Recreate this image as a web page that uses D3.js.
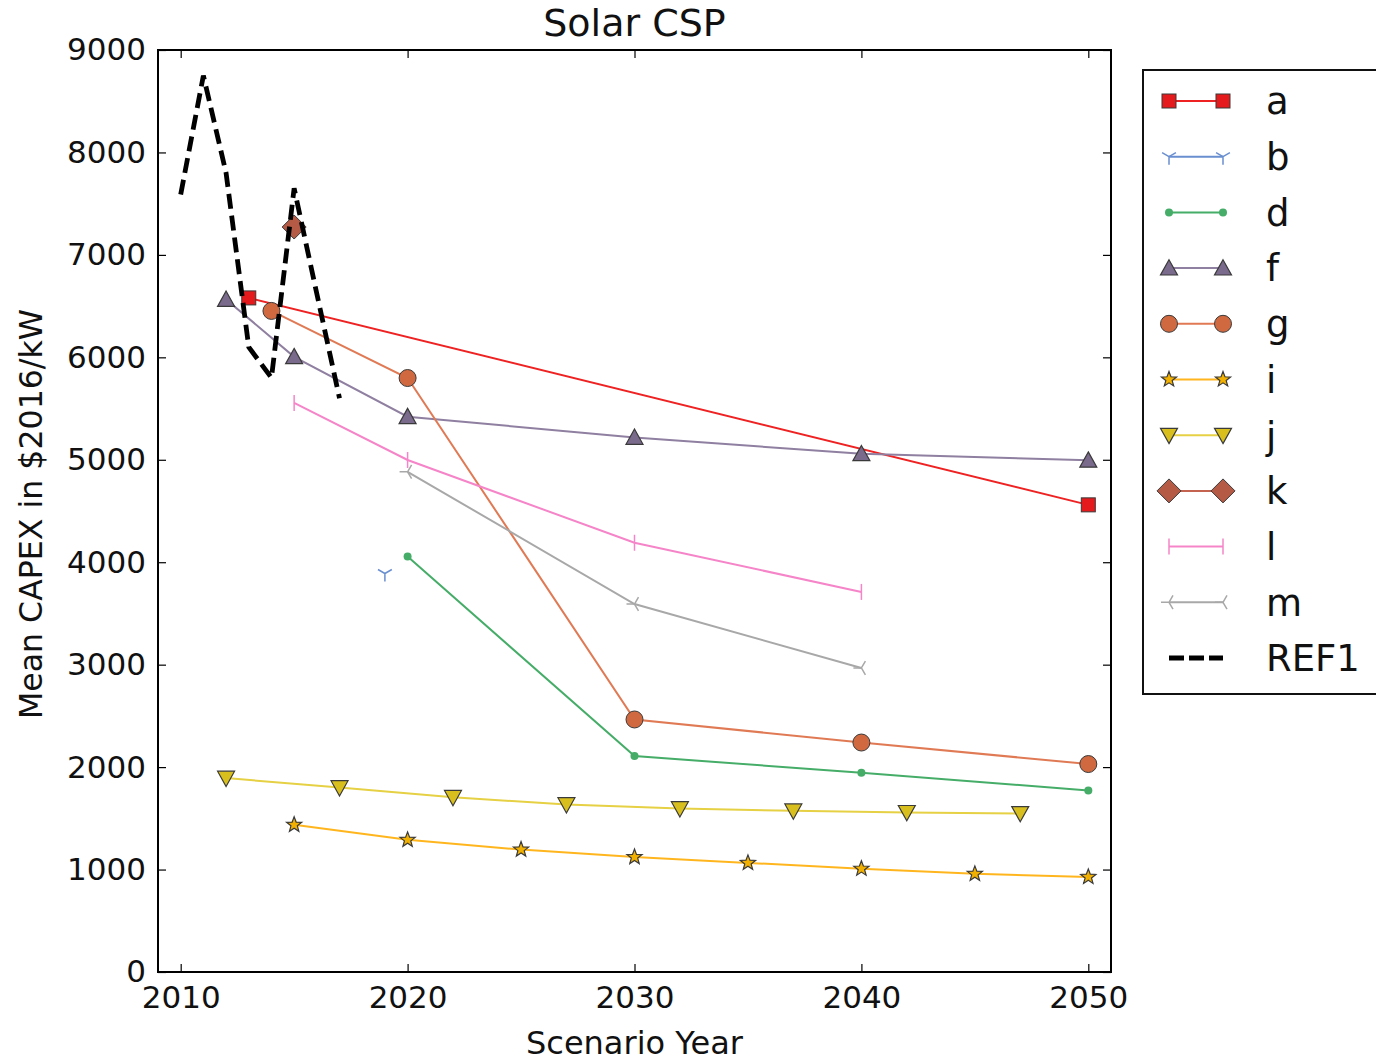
<!DOCTYPE html>
<html>
<head>
<meta charset="utf-8">
<script src="https://cdn.jsdelivr.net/npm/d3@7"></script>
<style>
  html, body { margin: 0; padding: 0; background: #fff; }
  svg { display: block; font-family: "DejaVu Sans", sans-serif; }
</style>
</head>
<body>
<svg id="chart" width="1376" height="1061"></svg>
<script>
// ---- Data ----
const seriesNames = ["a", "b", "d", "f", "g", "i", "j", "k", "l", "m", "REF1"];

const aYears = [2013, 2050];
const aValues = [6580, 4560];

const bYears = [2019];
const bValues = [3890];

const dYears = [2020, 2030, 2040, 2050];
const dValues = [4055, 2108, 1945, 1772];

const fYears = [2012, 2015, 2020, 2030, 2040, 2050];
const fValues = [6565, 6005, 5420, 5218, 5058, 4995];

const gYears = [2014, 2020, 2030, 2040, 2050];
const gValues = [6453, 5798, 2465, 2240, 2030];

const iYears = [2015, 2020, 2025, 2030, 2035, 2040, 2045, 2050];
const iValues = [1437, 1290, 1195, 1122, 1065, 1008, 958, 928];

const jYears = [2012, 2017, 2022, 2027, 2032, 2037, 2042, 2047];
const jValues = [1893, 1800, 1705, 1634, 1595, 1573, 1558, 1548];

const kYears = [2015];
const kValues = [7272];

const lYears = [2015, 2020, 2030, 2040];
const lValues = [5555, 4998, 4190, 3710];

const mYears = [2020, 2030, 2040];
const mValues = [4883, 3592, 2968];

const refYears = [2010, 2011, 2012, 2013, 2014, 2015, 2016, 2017];
const refValues = [7590, 8750, 7800, 6100, 5800, 7650, 6620, 5600];

const xTicks = [2010, 2020, 2030, 2040, 2050];
const yTicks = [0, 1000, 2000, 3000, 4000, 5000, 6000, 7000, 8000, 9000];

const titleText = "Solar CSP";
const xLabelText = "Scenario Year";
const yLabelText = "Mean CAPEX in $2016/kW";

// ---- Styles (kept separate from data) ----
const styles = {
  a:    { line: "#ee2222", fill: "#e41a1c", marker: "square",   size: 14 },
  b:    { line: "#6a8fd0", fill: "none",    marker: "tri_down", size: 8 },
  d:    { line: "#45ad68", fill: "#45ad68", marker: "dot",      size: 4 },
  f:    { line: "#8f7fa0", fill: "#7a6a8c", marker: "triangle", size: 17 },
  g:    { line: "#e07a55", fill: "#d0693f", marker: "circle",   size: 8.5 },
  i:    { line: "#ffb61e", fill: "#f2b000", marker: "star",     size: 8 },
  j:    { line: "#e6d044", fill: "#d8bf1e", marker: "tri_v",    size: 17 },
  k:    { line: "#c46450", fill: "#b55a45", marker: "diamond",  size: 12 },
  l:    { line: "#f585c8", fill: "none",    marker: "vline",    size: 8 },
  m:    { line: "#a8a8a8", fill: "none",    marker: "tri_left", size: 8 },
  REF1: { line: "#000000", fill: "none",    marker: "none",     size: 0 }
};

const data = {
  a: [aYears, aValues], b: [bYears, bValues], d: [dYears, dValues],
  f: [fYears, fValues], g: [gYears, gValues], i: [iYears, iValues],
  j: [jYears, jValues], k: [kYears, kValues], l: [lYears, lValues],
  m: [mYears, mValues], REF1: [refYears, refValues]
};

// ---- Layout ----
const svg = d3.select("#chart");
const L = 158, R = 1111, T = 50, B = 972;

const x = d3.scaleLinear().domain([2009, 2051]).range([L, R]);
const y = d3.scaleLinear().domain([0, 9000]).range([B, T]);

svg.append("rect").attr("width", 1376).attr("height", 1061).attr("fill", "#fff");

const plot = svg.append("g");

svg.append("clipPath").attr("id", "clip")
  .append("rect").attr("x", L).attr("y", T).attr("width", R - L).attr("height", B - T);

const lineGen = d3.line().x(d => x(d[0])).y(d => y(d[1]));

function markerPath(type, s) {
  const r = s;
  switch (type) {
    case "tri_down":
      return `M0,0L0,${r}M0,0L${-0.866*r},${-0.5*r}M0,0L${0.866*r},${-0.5*r}`;
    case "tri_left":
      return `M0,0L${-r},0M0,0L${0.5*r},${-0.866*r}M0,0L${0.5*r},${0.866*r}`;
    case "vline":
      return `M0,${-r}L0,${r}`;
    default: return "";
  }
}

function drawMarker(g, type, st, cx, cy) {
  const s = st.size;
  const edge = "#3a3a3a";
  if (type === "square") {
    g.append("rect").attr("x", cx - s/2).attr("y", cy - s/2).attr("width", s).attr("height", s)
      .attr("fill", st.fill).attr("stroke", edge).attr("stroke-width", 1);
  } else if (type === "circle") {
    g.append("circle").attr("cx", cx).attr("cy", cy).attr("r", s)
      .attr("fill", st.fill).attr("stroke", edge).attr("stroke-width", 1);
  } else if (type === "dot") {
    g.append("circle").attr("cx", cx).attr("cy", cy).attr("r", s)
      .attr("fill", st.fill).attr("stroke", "none");
  } else if (type === "triangle" || type === "tri_v") {
    const h = s * 0.9, w = s;
    const sign = type === "triangle" ? 1 : -1;
    const p = `M${cx},${cy - sign*h*0.55}L${cx + w/2},${cy + sign*h*0.45}L${cx - w/2},${cy + sign*h*0.45}Z`;
    g.append("path").attr("d", p).attr("fill", st.fill).attr("stroke", edge).attr("stroke-width", 1.2)
      .attr("stroke-linejoin", "miter");
  } else if (type === "star") {
    const pts = [];
    for (let k = 0; k < 10; k++) {
      const ang = -Math.PI/2 + k * Math.PI/5;
      const rr = k % 2 === 0 ? s : s * 0.42;
      pts.push([cx + rr*Math.cos(ang), cy + rr*Math.sin(ang)]);
    }
    g.append("path").attr("d", "M" + pts.map(p => p.join(",")).join("L") + "Z")
      .attr("fill", st.fill).attr("stroke", edge).attr("stroke-width", 1.2);
  } else if (type === "diamond") {
    const p = `M${cx},${cy - s}L${cx + s},${cy}L${cx},${cy + s}L${cx - s},${cy}Z`;
    g.append("path").attr("d", p).attr("fill", st.fill).attr("stroke", edge).attr("stroke-width", 1);
  } else if (type !== "none") {
    g.append("path").attr("d", markerPath(type, s)).attr("transform", `translate(${cx},${cy})`)
      .attr("fill", "none").attr("stroke", st.line).attr("stroke-width", 1.5);
  }
}

const series = plot.append("g").attr("clip-path", "url(#clip)");

seriesNames.forEach(name => {
  const [yrs, vals] = data[name];
  const pts = yrs.map((yr, i2) => [yr, vals[i2]]);
  const st = styles[name];
  const g = series.append("g");
  if (name === "REF1") {
    g.append("path").datum(pts).attr("d", lineGen).attr("fill", "none")
      .attr("stroke", "#000").attr("stroke-width", 4.8).attr("stroke-dasharray", "15,7");
  } else {
    if (pts.length > 1) {
      g.append("path").datum(pts).attr("d", lineGen).attr("fill", "none")
        .attr("stroke", st.line).attr("stroke-width", 2);
    }
    pts.forEach(p => drawMarker(g, st.marker, st, x(p[0]), y(p[1])));
  }
});

// ---- Axes ----
const fontSize = 31;
const xAxis = svg.append("g").attr("transform", `translate(0,${B})`)
  .call(d3.axisBottom(x).tickValues(xTicks).tickFormat(d3.format("d")).tickSize(-8).tickPadding(14));
const xTop = svg.append("g").attr("transform", `translate(0,${T})`)
  .call(d3.axisTop(x).tickValues(xTicks).tickFormat("").tickSize(-8));
const yAxis = svg.append("g").attr("transform", `translate(${L},0)`)
  .call(d3.axisLeft(y).tickValues(yTicks).tickFormat(d3.format("d")).tickSize(-8).tickPadding(12));
const yRight = svg.append("g").attr("transform", `translate(${R},0)`)
  .call(d3.axisRight(y).tickValues(yTicks).tickFormat("").tickSize(-8));

[xAxis, xTop, yAxis, yRight].forEach(a => {
  a.select(".domain").remove();
  a.selectAll(".tick line").attr("stroke", "#000").attr("stroke-width", 1.2);
  a.selectAll(".tick text").attr("font-size", fontSize).attr("fill", "#111")
    .attr("font-family", "DejaVu Sans");
});

// frame
svg.append("rect").attr("x", L).attr("y", T).attr("width", R - L).attr("height", B - T)
  .attr("fill", "none").attr("stroke", "#000").attr("stroke-width", 2);

// ---- Labels ----
svg.append("text").attr("x", (L + R)/2).attr("y", 36).attr("text-anchor", "middle")
  .attr("font-size", 38).attr("fill", "#111").text(titleText);
svg.append("text").attr("x", (L + R)/2).attr("y", 1054).attr("text-anchor", "middle")
  .attr("font-size", 32).attr("fill", "#111").text(xLabelText);
svg.append("text").attr("transform", `translate(42,${(T + B)/2 + 3}) rotate(-90)`).attr("text-anchor", "middle")
  .attr("font-size", 31.6).attr("fill", "#111").text(yLabelText);

// ---- Legend ----
const leg = svg.append("g");
leg.append("rect").attr("x", 1143).attr("y", 70).attr("width", 250).attr("height", 624)
  .attr("fill", "#fff").attr("stroke", "#111").attr("stroke-width", 2);
const rowY0 = 101, rowStep = 55.7;
seriesNames.forEach((name, idx) => {
  const st = styles[name];
  const cy = rowY0 + idx * rowStep;
  const g = leg.append("g");
  if (name === "REF1") {
    g.append("line").attr("x1", 1169).attr("x2", 1223).attr("y1", cy).attr("y2", cy)
      .attr("stroke", "#000").attr("stroke-width", 4.8).attr("stroke-dasharray", "15,5");
  } else {
    g.append("line").attr("x1", 1169).attr("x2", 1223).attr("y1", cy).attr("y2", cy)
      .attr("stroke", st.line).attr("stroke-width", 2);
    drawMarker(g, st.marker, st, 1169, cy);
    drawMarker(g, st.marker, st, 1223, cy);
  }
  g.append("text").attr("x", 1266).attr("y", cy).attr("dy", "0.36em")
    .attr("font-size", 37).attr("fill", "#111").text(name);
});
</script>
</body>
</html>
